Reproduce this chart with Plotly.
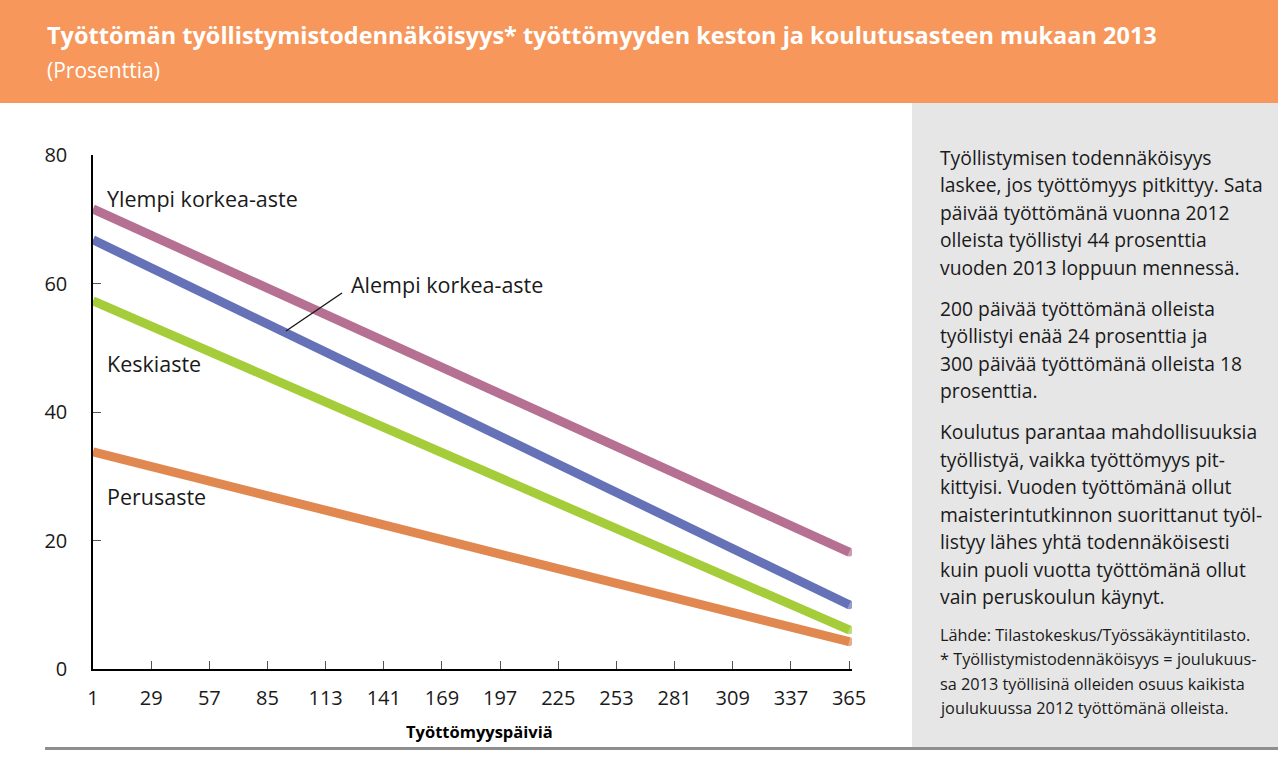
import plotly.graph_objects as go

# ── Data ───────────────────────────────────────────────────────────────────
DAYS = [1, 365]
SERIES = ["Ylempi korkea-aste", "Alempi korkea-aste", "Keskiaste", "Perusaste"]
YLEMPI = [71.6, 18.2]
ALEMPI = [66.8, 10.0]
KESKI = [57.3, 6.1]
PERUS = [33.8, 4.25]
X_TICKS = [1, 29, 57, 85, 113, 141, 169, 197, 225, 253, 281, 309, 337, 365]
Y_TICKS = [0, 20, 40, 60, 80]

COLORS = ["#b57092", "#6672b8", "#a4cd39", "#e08850"]

TITLE = "Työttömän työllistymistodennäköisyys* työttömyyden keston ja koulutusasteen mukaan 2013"
SUBTITLE = "(Prosenttia)"
X_TITLE = "Työttömyyspäiviä"

SIDE_TEXT = [
    ["Työllistymisen todennäköisyys",
     "laskee, jos työttömyys pitkittyy. Sata",
     "päivää työttömänä vuonna 2012",
     "olleista työllistyi 44 prosenttia",
     "vuoden 2013 loppuun mennessä."],
    ["200 päivää työttömänä olleista",
     "työllistyi enää 24 prosenttia ja",
     "300 päivää työttömänä olleista 18",
     "prosenttia."],
    ["Koulutus parantaa mahdollisuuksia",
     "työllistyä, vaikka työttömyys pit-",
     "kittyisi. Vuoden työttömänä ollut",
     "maisterintutkinnon suorittanut työl-",
     "listyy lähes yhtä todennäköisesti",
     "kuin puoli vuotta työttömänä ollut",
     "vain peruskoulun käynyt."],
]
SOURCE_TEXT = [
    "Lähde: Tilastokeskus/Työssäkäyntitilasto.",
    "* Työllistymistodennäköisyys = joulukuus-",
    "sa 2013 työllisinä olleiden osuus kaikista",
    "joulukuussa 2012 työttömänä olleista.",
]

# ── Pixel helpers (plot area 93..852 x 155..669) ───────────────────────────
W, H = 1278, 766
L, R, T, B = 93, 852, 155, 669
FONT = "'Open Sans', sans-serif"
INK = "#1a1a1a"


def px(x):
    return (x - L) / (R - L)


def py(y):
    return (B - y) / (B - T)


fig = go.Figure()

for name, vals, clr in zip(SERIES, [YLEMPI, ALEMPI, KESKI, PERUS], COLORS):
    fig.add_trace(go.Scatter(
        x=DAYS, y=vals, name=name, mode="lines+markers",
        line=dict(color=clr, width=9),
        marker=dict(color=clr, size=[0, 9], line=dict(width=0)),
        hoverinfo="x+y+name",
    ))

# Header band, side panel, bottom rule
shapes = [
    dict(type="rect", xref="paper", yref="paper", x0=px(0), x1=px(W),
         y0=py(103), y1=py(0), fillcolor="#f7975b", line_width=0, layer="below"),
    dict(type="rect", xref="paper", yref="paper", x0=px(912), x1=px(W),
         y0=py(748), y1=py(103), fillcolor="#e6e6e6", line_width=0, layer="below"),
    dict(type="line", xref="paper", yref="paper", x0=px(45), x1=px(W),
         y0=py(748.5), y1=py(748.5), line=dict(color="#8f8f8f", width=3)),
    # leader line for "Alempi korkea-aste"
    dict(type="line", xref="paper", yref="paper", x0=px(286), x1=px(342),
         y0=py(331), y1=py(293), line=dict(color=INK, width=1.5)),
]

ann = [
    dict(text=f"<b>{TITLE}</b>", x=px(45), y=py(35), font=dict(size=23.5, color="white")),
    dict(text=SUBTITLE, x=px(45), y=py(70), font=dict(size=21, color="white")),
    dict(text=f"<b>{X_TITLE}</b>", x=px(479), y=py(731), xanchor="center",
         font=dict(size=16.5, color="black")),
    dict(text=SERIES[0], x=px(105), y=py(198), font=dict(size=21.5, color=INK)),
    dict(text=SERIES[1], x=px(349), y=py(284), font=dict(size=21.5, color=INK)),
    dict(text=SERIES[2], x=px(105), y=py(363), font=dict(size=21.5, color=INK)),
    dict(text=SERIES[3], x=px(105), y=py(496), font=dict(size=21.5, color=INK)),
]

# Side panel text, one annotation per line
y0 = 157
for para in SIDE_TEXT:
    for line in para:
        ann.append(dict(text=line, x=px(938), y=py(y0), font=dict(size=19.3, color=INK)))
        y0 += 27.5
    y0 += 13.5
y0 = 635
for line in SOURCE_TEXT:
    ann.append(dict(text=line, x=px(938), y=py(y0), font=dict(size=16.3, color=INK)))
    y0 += 24.3

for a in ann:
    a.setdefault("xanchor", "left")
    a.update(xref="paper", yref="paper", yanchor="middle", showarrow=False)

fig.update_layout(
    width=W, height=H,
    margin=dict(l=L, r=W - R, t=T, b=H - B, pad=0),
    paper_bgcolor="white", plot_bgcolor="white",
    font=dict(family=FONT, color=INK, size=20),
    showlegend=False,
    shapes=shapes, annotations=ann,
)
fig.update_xaxes(
    range=[1, 366.4], tickvals=X_TICKS, ticks="inside", ticklen=8, tickwidth=1,
    tickcolor="#555555", showline=True, linecolor="black", linewidth=1.5,
    showgrid=False, zeroline=False, tickfont=dict(size=20, color=INK),
    ticklabelstandoff=10,
)
fig.update_yaxes(
    range=[0, 80], tickvals=Y_TICKS, ticks="inside", ticklen=8, tickwidth=1,
    tickcolor="#555555", showline=True, linecolor="black", linewidth=1.5,
    showgrid=False, zeroline=False, tickfont=dict(size=20, color=INK),
    ticklabelstandoff=20,
)

fig.write_html(
    "out.html",
    config={"displayModeBar": False},
    post_script="document.body.style.margin='0';document.body.style.overflow='hidden';",
)
